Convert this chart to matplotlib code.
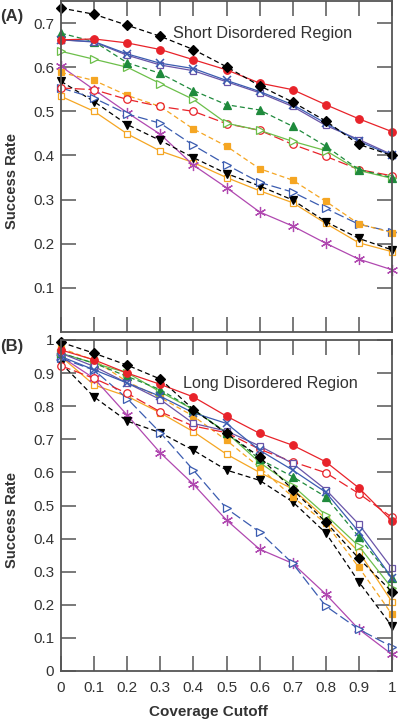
import matplotlib
matplotlib.use("Agg")
import matplotlib.pyplot as plt

plt.rcParams['font.family'] = ['Liberation Sans', 'DejaVu Sans']

x = [0, 0.1, 0.2, 0.3, 0.4, 0.5, 0.6, 0.7, 0.8, 0.9, 1.0]
xtick_labels = ['0', '0.1', '0.2', '0.3', '0.4', '0.5', '0.6', '0.7', '0.8', '0.9', '1']

# Panel A: Short Disordered Region
a_black_diamond = [0.734, 0.720, 0.695, 0.670, 0.640, 0.601, 0.558, 0.521, 0.478, 0.425, 0.400]
a_red_filled    = [0.662, 0.664, 0.655, 0.640, 0.617, 0.594, 0.564, 0.549, 0.515, 0.483, 0.454]
a_blue_x        = [0.662, 0.658, 0.630, 0.609, 0.597, 0.570, 0.545, 0.515, 0.473, 0.432, 0.400]
a_purple_sq     = [0.662, 0.657, 0.627, 0.605, 0.592, 0.567, 0.542, 0.511, 0.468, 0.436, 0.402]
a_green_filled  = [0.677, 0.658, 0.610, 0.586, 0.547, 0.515, 0.503, 0.466, 0.421, 0.368, 0.350]
a_green_open    = [0.636, 0.618, 0.600, 0.563, 0.527, 0.473, 0.457, 0.432, 0.411, 0.366, 0.348]
a_red_open      = [0.553, 0.549, 0.527, 0.511, 0.500, 0.472, 0.457, 0.425, 0.398, 0.368, 0.354]
a_orange_filled = [0.588, 0.570, 0.536, 0.511, 0.460, 0.421, 0.370, 0.344, 0.296, 0.245, 0.225]
a_blue_open_tri = [0.553, 0.530, 0.494, 0.473, 0.423, 0.379, 0.339, 0.317, 0.280, 0.244, 0.227]
a_black_tri     = [0.568, 0.522, 0.470, 0.434, 0.395, 0.359, 0.331, 0.299, 0.250, 0.212, 0.186]
a_orange_open   = [0.534, 0.500, 0.449, 0.410, 0.384, 0.350, 0.320, 0.293, 0.246, 0.202, 0.182]
a_asterisk      = [0.602, 0.549, 0.497, 0.448, 0.378, 0.327, 0.272, 0.240, 0.201, 0.165, 0.141]

# Panel B: Long Disordered Region
b_black_diamond = [0.993, 0.960, 0.924, 0.882, 0.790, 0.718, 0.647, 0.548, 0.450, 0.340, 0.239]
b_red_filled    = [0.970, 0.940, 0.900, 0.866, 0.828, 0.770, 0.718, 0.682, 0.632, 0.553, 0.453]
b_blue_x        = [0.950, 0.910, 0.870, 0.830, 0.780, 0.748, 0.667, 0.607, 0.540, 0.420, 0.281]
b_purple_sq     = [0.960, 0.920, 0.870, 0.820, 0.748, 0.725, 0.680, 0.627, 0.548, 0.443, 0.310]
b_green_filled  = [0.960, 0.930, 0.890, 0.850, 0.790, 0.720, 0.640, 0.587, 0.526, 0.405, 0.280]
b_green_open    = [0.960, 0.930, 0.901, 0.843, 0.790, 0.720, 0.630, 0.560, 0.471, 0.377, 0.250]
b_red_open      = [0.922, 0.884, 0.839, 0.783, 0.740, 0.720, 0.670, 0.632, 0.599, 0.536, 0.464]
b_orange_filled = [0.975, 0.939, 0.874, 0.826, 0.770, 0.697, 0.615, 0.526, 0.446, 0.313, 0.171]
b_blue_open_tri = [0.945, 0.909, 0.823, 0.720, 0.607, 0.491, 0.420, 0.325, 0.196, 0.126, 0.073]
b_black_tri     = [0.930, 0.828, 0.755, 0.720, 0.667, 0.607, 0.576, 0.511, 0.417, 0.269, 0.135]
b_orange_open   = [0.950, 0.864, 0.830, 0.780, 0.723, 0.655, 0.600, 0.550, 0.460, 0.360, 0.209]
b_asterisk      = [0.950, 0.884, 0.773, 0.659, 0.564, 0.456, 0.368, 0.325, 0.232, 0.126, 0.050]

RED = '#e8232a'
DGREEN = '#1f8a3c'
LGREEN = '#6cbf4a'
BLUE = '#3b5cb0'
PURPLE = '#6a55a8'
ORANGE = '#f5a623'
MAGENTA = '#b048b0'
BLACK = '#000000'

# (key, color, marker, filled, linestyle)
styles = [
    ('orange_open',   ORANGE,  's', False, '-'),
    ('asterisk',      MAGENTA, '*', None,  '-'),
    ('black_tri',     BLACK,   'v', True,  (0, (4, 2.5))),
    ('blue_open_tri', BLUE,    '>', False, (0, (8, 3))),
    ('orange_filled', ORANGE,  's', True,  (0, (4, 2.5))),
    ('red_open',      RED,     'o', False, (0, (8, 3))),
    ('green_open',    LGREEN,  '>', False, '-'),
    ('green_filled',  DGREEN,  '^', True,  (0, (4, 2.5))),
    ('purple_sq',     PURPLE,  's', False, '-'),
    ('blue_x',        BLUE,    'x', None,  '-'),
    ('red_filled',    RED,     'o', True,  '-'),
    ('black_diamond', BLACK,   'D', True,  (0, (4, 2.5))),
]

data_a = {
    'black_diamond': a_black_diamond, 'red_filled': a_red_filled, 'blue_x': a_blue_x,
    'purple_sq': a_purple_sq, 'green_filled': a_green_filled, 'green_open': a_green_open,
    'red_open': a_red_open, 'orange_filled': a_orange_filled, 'blue_open_tri': a_blue_open_tri,
    'black_tri': a_black_tri, 'orange_open': a_orange_open, 'asterisk': a_asterisk,
}
data_b = {
    'black_diamond': b_black_diamond, 'red_filled': b_red_filled, 'blue_x': b_blue_x,
    'purple_sq': b_purple_sq, 'green_filled': b_green_filled, 'green_open': b_green_open,
    'red_open': b_red_open, 'orange_filled': b_orange_filled, 'blue_open_tri': b_blue_open_tri,
    'black_tri': b_black_tri, 'orange_open': b_orange_open, 'asterisk': b_asterisk,
}

fig = plt.figure(figsize=(4.0, 7.22), dpi=100)
axA = fig.add_axes([61/400, 1 - 332/722, 331/400, 331/722])
axB = fig.add_axes([61/400, 1 - 671/722, 331/400, 331/722])

SPINE = '#555555'
TXT = '#333333'


def draw(ax, data):
    for key, col, mk, filled, ls in styles:
        y = data[key]
        kw = dict(color=col, linestyle=ls, linewidth=0.9, marker=mk, clip_on=False)
        if mk == '*':
            kw.update(marker=(6, 2, 0), markersize=8, markeredgewidth=0.9, markeredgecolor=col)
        elif mk == 'x':
            kw.update(markersize=5.5, markeredgewidth=1.1, markeredgecolor=col)
        else:
            ms = {'s': 4.6, 'D': 4.8, 'o': 5.4}.get(mk, 5.6)
            kw.update(markersize=ms, markeredgewidth=0.9, markeredgecolor=col,
                      markerfacecolor=col if filled else 'white')
        ax.plot(x, y, **kw)
    ax.set_xlim(0, 1)
    for s in ax.spines.values():
        s.set_color(SPINE)
        s.set_linewidth(1.3)
    ax.tick_params(direction='in', length=11, width=1.1, color=SPINE,
                   top=True, right=True, labelsize=11, labelcolor=TXT)
    ax.tick_params(axis='y', pad=5)
    ax.tick_params(axis='x', pad=7)
    ax.set_xticks(x)
    ax.set_ylabel('Success Rate', fontsize=10.6, fontweight='bold', color=TXT,
                  va='center', ha='center')
    ax.yaxis.set_label_coords(-0.148, 0.455)


draw(axA, data_a)
axA.set_ylim(0, 0.75)
axA.set_yticks([0.1, 0.2, 0.3, 0.4, 0.5, 0.6, 0.7])
axA.set_yticklabels(['0.1', '0.2', '0.3', '0.4', '0.5', '0.6', '0.7'])
axA.tick_params(labelbottom=False)
axA.text(0.338, 0.676, 'Short Disordered Region', fontsize=11.7, color=TXT,
         va='center', ha='left', transform=axA.transData)

draw(axB, data_b)
axB.set_ylim(0, 1.0)
b_yticks = [0, 0.1, 0.2, 0.3, 0.4, 0.5, 0.6, 0.7, 0.8, 0.9, 1.0]
axB.set_yticks(b_yticks)
axB.set_yticklabels(['0', '0.1', '0.2', '0.3', '0.4', '0.5', '0.6', '0.7', '0.8', '0.9', '1'])
axB.set_xticklabels(xtick_labels)
axB.set_xlabel('Coverage Cutoff', fontsize=11, fontweight='bold', color=TXT, va='center')
axB.xaxis.set_label_coords(0.444, -0.124)
axB.text(0.369, 0.870, 'Long Disordered Region', fontsize=11.6, color=TXT,
         va='center', ha='left', transform=axB.transData)

fig.text(0.5/400, 1 - 16/722, '(A)', fontsize=12, fontweight='bold', color=TXT, va='center', ha='left')
fig.text(0.5/400, 1 - 347/722, '(B)', fontsize=12, fontweight='bold', color=TXT, va='center', ha='left')

fig.savefig('out.png', dpi=100)
